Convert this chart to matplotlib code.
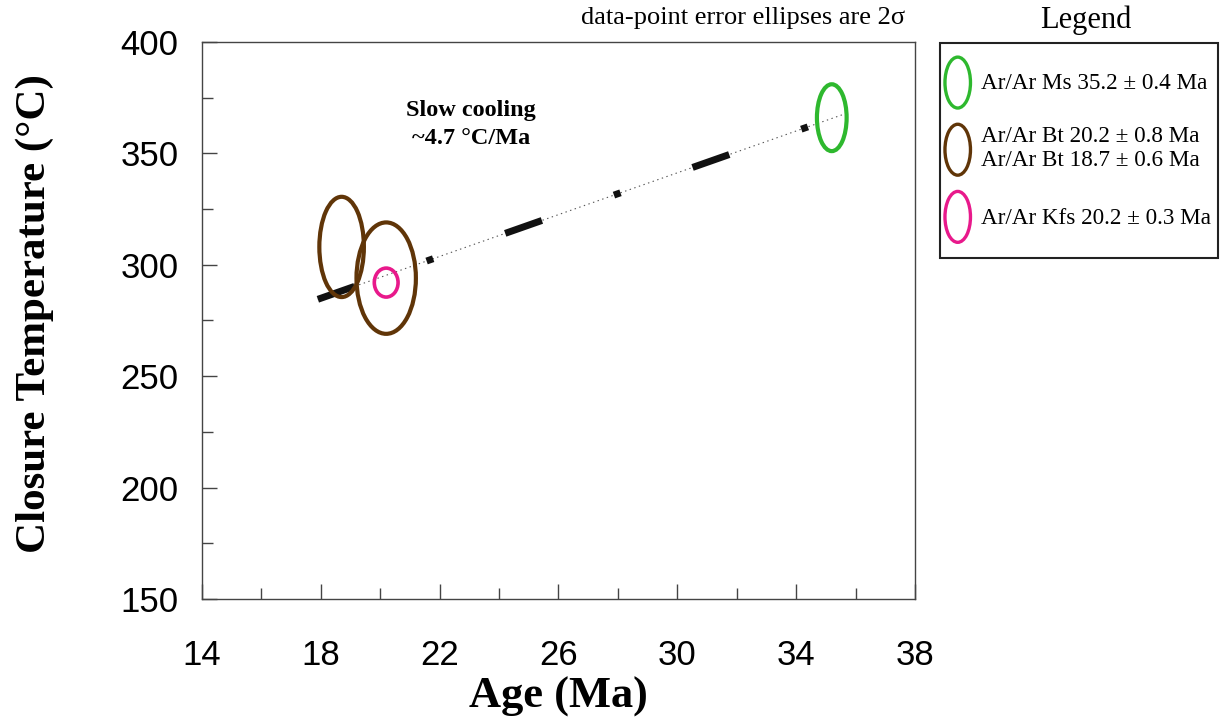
import matplotlib
matplotlib.use("Agg")
import matplotlib.pyplot as plt
from matplotlib.patches import Ellipse, Rectangle
from matplotlib.legend_handler import HandlerPatch
from matplotlib.ticker import MultipleLocator

# age (Ma), closure temperature (C), 2-sigma half widths
ell_age = [35.2, 18.7, 20.2, 20.2]
ell_temp = [366, 308, 294, 292]
ell_age_err = [0.5, 0.75, 1.0, 0.4]
ell_temp_err = [15, 22.5, 25, 6.5]
ell_color = ["#2eb82e", "#603508", "#603508", "#e8198b"]
ell_lw = [3.0, 3.0, 3.0, 2.6]

legend_labels = ["Ar/Ar Ms 35.2 ± 0.4 Ma",
                 "Ar/Ar Bt 20.2 ± 0.8 Ma\nAr/Ar Bt 18.7 ± 0.6 Ma",
                 "Ar/Ar Kfs 20.2 ± 0.3 Ma"]
legend_colors = ["#2eb82e", "#603508", "#e8198b"]

# cooling trend
trend_age = [17.9, 35.7]
trend_temp = [284.5, 368.0]

x_ticks = [14, 18, 22, 26, 30, 34, 38]
y_ticks = [150, 200, 250, 300, 350, 400]

plt.rcParams['lines.scale_dashes'] = False
tick_font = ['Liberation Sans', 'DejaVu Sans']
serif = ['Liberation Serif', 'DejaVu Serif']

fig = plt.figure(figsize=(12.25, 7.23), dpi=100)
ax = fig.add_axes([0.1649, 0.1715, 0.582, 0.7705])

ax.plot(trend_age, trend_temp, color="#555555", lw=0.8, ls=(0, (1, 2.5)), zorder=2)
ax.plot(trend_age, trend_temp, color="#111111", lw=5, solid_capstyle='butt',
        dash_capstyle='butt', ls=(0, (28, 55, 5, 55)), zorder=2)

for a, t, ea, et, c, lw in zip(ell_age, ell_temp, ell_age_err, ell_temp_err, ell_color, ell_lw):
    ax.add_patch(Ellipse((a, t), 2 * ea, 2 * et, fill=False, edgecolor=c, lw=lw, zorder=3))

ax.set_xlim(14, 38)
ax.set_ylim(150, 400)
ax.set_xticks(x_ticks)
ax.set_yticks(y_ticks)
ax.xaxis.set_minor_locator(MultipleLocator(2))
ax.yaxis.set_minor_locator(MultipleLocator(25))
ax.tick_params(which='both', direction='in', color="#444444", width=1)
ax.tick_params(which='major', length=11, labelsize=25)
ax.tick_params(which='minor', length=8)
ax.tick_params(axis='x', pad=29)
ax.tick_params(axis='y', pad=17)
for lab in ax.get_xticklabels() + ax.get_yticklabels():
    lab.set_family(tick_font)
for sp in ax.spines.values():
    sp.set_color("#444444")
    sp.set_linewidth(1)

ax.set_xlabel("Age (Ma)", family=serif, fontweight='bold', fontsize=32, labelpad=3)
ax.set_ylabel("Closure Temperature (°C)", family=serif, fontweight='bold', fontsize=31)
ax.yaxis.set_label_coords(-0.207, 0.513)

ax.text(23.05, 363, "Slow cooling\n~4.7 °C/Ma", family=serif, fontweight='bold',
        fontsize=17.5, ha='center', va='center', linespacing=1.45)
fig.text(0.739, 0.975, "data-point error ellipses are 2σ",
         family=serif, fontsize=19, ha='right', va='center')


class HandlerEllipse(HandlerPatch):
    def create_artists(self, legend, orig_handle, xdescent, ydescent, width, height, fontsize, trans):
        e = Ellipse((width / 2 - xdescent, height / 2 - ydescent), width, height)
        self.update_prop(e, orig_handle, legend)
        e.set_transform(trans)
        return [e]


handles = [Ellipse((0, 0), 1, 1, fill=False, edgecolor=c, lw=2.4) for c in legend_colors]
fig.text(0.8865, 0.972, "Legend", family=serif, fontsize=22, ha='center', va='center')
fig.add_artist(Rectangle((0.7673, 0.643), 0.227, 0.2975, transform=fig.transFigure,
                         fill=False, edgecolor='#222222', lw=1.5))
leg = fig.legend(handles, legend_labels, handler_map={Ellipse: HandlerEllipse()},
                 loc='upper left', bbox_to_anchor=(0.7714, 0.921), frameon=False,
                 borderpad=0, borderaxespad=0,
                 prop={'family': serif, 'size': 16.7}, handlelength=1.1, handleheight=3.0,
                 handletextpad=0.45, labelspacing=0.7)
leg.get_texts()[1].set_linespacing(1.2)

fig.savefig("out.png", dpi=100)
